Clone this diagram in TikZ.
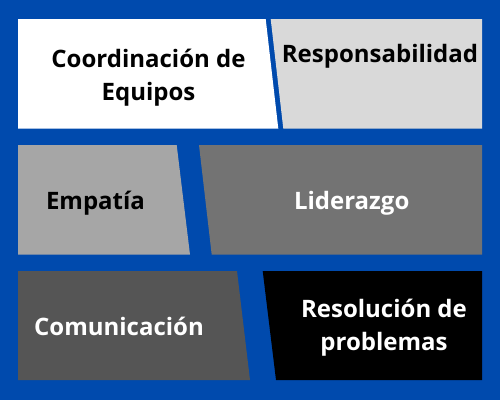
\documentclass[tikz,border=0pt]{standalone}
\usepackage{fontspec}
\setmainfont{Open Sans}
\definecolor{bgblue}{HTML}{004AAD}
\definecolor{gA}{HTML}{D9D9D9}
\definecolor{gB}{HTML}{A6A6A6}
\definecolor{gC}{HTML}{737373}
\definecolor{gD}{HTML}{555555}
\begin{document}
\begin{tikzpicture}[x=1pt,y=-1pt,
  lbl/.style={font=\fontsize{24}{33}\selectfont\bfseries, inner sep=0pt, align=center, anchor=base}]
\fill[bgblue] (0,0) rectangle (500,400);
\useasboundingbox (0,0) rectangle (500,400);
% row 1
\fill[white] (18,19) -- (265.7,19) -- (278.3,128.7) -- (18,128.7) -- cycle;
\fill[gA] (270.7,19) -- (482,19) -- (482,128.7) -- (283.3,128.7) -- cycle;
% row 2
\fill[gB] (18,145) -- (176.7,145) -- (190,254.7) -- (18,254.7) -- cycle;
\fill[gC] (199,145) -- (482,145) -- (482,254.7) -- (211.7,254.7) -- cycle;
% row 3
\fill[gD] (18,271) -- (237,271) -- (250,380) -- (18,380) -- cycle;
\fill[black] (262.7,271) -- (482,271) -- (482,380) -- (276,380) -- cycle;
% labels
\node[lbl, text=black] (coord) at (148.5,100) {Coordinación de\\Equipos};
\node[lbl, text=black] (resp) at (380,62) {Responsabilidad};
\node[lbl, text=black] (emp) at (95.5,209) {Empatía};
\node[lbl, text=white] (lid) at (351.7,209) {Liderazgo};
\node[lbl, text=white] (com) at (119,335) {Comunicación};
\node[lbl, text=white] (res) at (384,350) {Resolución de\\problemas};
\end{tikzpicture}
\end{document}
